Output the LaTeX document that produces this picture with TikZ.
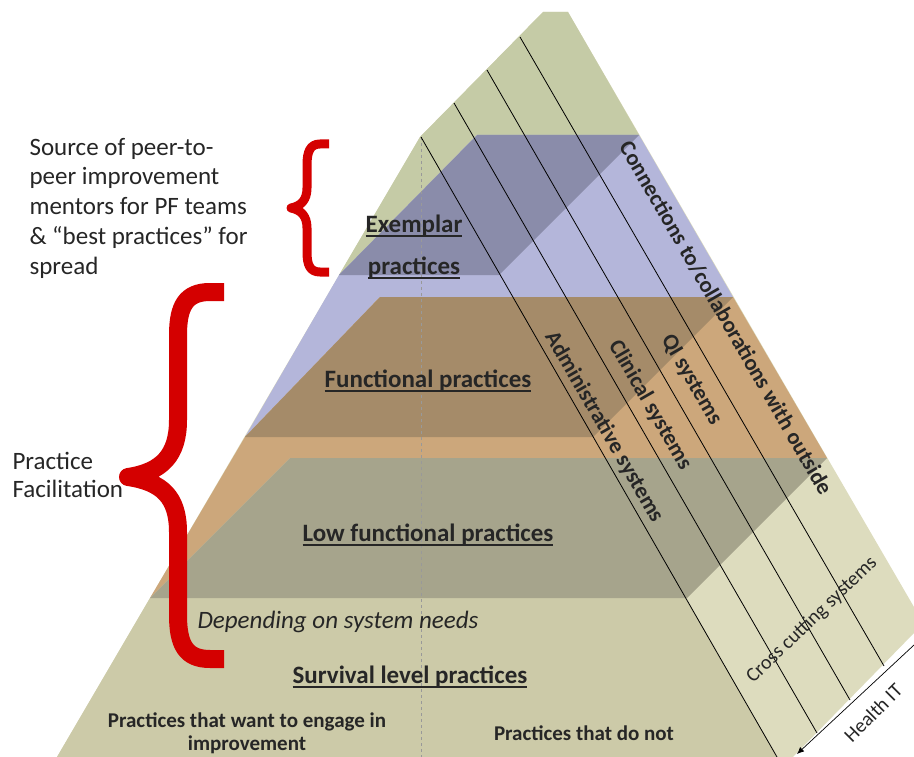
\documentclass[tikz,border=0pt]{standalone}
\usepackage{fontspec}
\setmainfont{Carlito}
\usetikzlibrary{arrows.meta}

\definecolor{topgreen}{HTML}{C5CBA6}
\definecolor{facelight}{HTML}{DDDCBE}
\definecolor{survfront}{HTML}{CCCAA8}
\definecolor{purplelight}{HTML}{B4B6DA}
\definecolor{purpledark}{HTML}{8A8CAA}
\definecolor{orangelight}{HTML}{CCA77B}
\definecolor{browndark}{HTML}{A58B69}
\definecolor{greydark}{HTML}{A6A48C}
\definecolor{bracered}{HTML}{D40000}

% thick underline for the level names
\newcommand{\undl}[1]{\setbox0\hbox{#1}\rlap{\rule[-4pt]{\wd0}{1.5pt}}\box0}

\tikzset{
  lvl/.style={font=\bfseries\fontsize{25}{29}\selectfont, text=black!85},
  sys/.style={font=\bfseries\fontsize{22.5}{26}\selectfont, rotate=-60, text=black!85},
  side/.style={font=\fontsize{25}{29.75}\selectfont, align=left, anchor=west, text=black!85},
  small/.style={font=\bfseries\fontsize{21}{23}\selectfont, text=black!85},
  brace/.style={bracered, line join=round},
}

\begin{document}
\begin{tikzpicture}[x=1pt, y=-1pt]
    \useasboundingbox (0,0) rectangle (914,757);

    % Whole pyramid, light side face
    \fill[facelight] (543,12) -- (568,12) -- (914,607) -- (914,633) -- (793,757) -- (57,757) -- (420,137) -- cycle;
    % Front of the survival level
    \fill[survfront] (150,598) -- (686,598) -- (777,757) -- (57,757) -- cycle;
    % Top of the pyramid
    \fill[topgreen] (543,12) -- (568,12) -- (639,135) -- (477,135) -- (339,275) -- (420,137) -- cycle;

    % Exemplar level
    \fill[purplelight] (477,135) -- (639,135) -- (733,297) -- (380,297) -- (245,437) -- (339,275) -- cycle;
    \fill[purpledark] (477,135) -- (639,135) -- (499,275) -- (339,275) -- cycle;
    % Functional level
    \fill[orangelight] (380,297) -- (733,297) -- (827,458) -- (290,458) -- (150,598) -- (245,437) -- cycle;
    \fill[browndark] (380,297) -- (733,297) -- (593,437) -- (245,437) -- cycle;
    % Low functional level
    \fill[greydark] (290,458) -- (827,458) -- (687,598) -- (150,598) -- cycle;

    % Split want / do not
    \draw[black!40, dashed, line width=0.6pt] (421,137) -- (421,757);

    % Cross cutting system lines
    \draw[black, line width=0.8pt] (421,137) -- (777,757);
    \draw[black, line width=0.8pt] (454,103) -- (817,733);
    \draw[black, line width=0.8pt] (487,70) -- (850,700);
    \draw[black, line width=0.8pt] (520,37) -- (884,666);

    % Health IT arrow
    \coordinate (hitA) at (914,645);
    \coordinate (hitB) at (797,754);
    \draw[black, line width=0.7pt, -{Latex[length=7pt, width=6pt]}] (hitA) -- (hitB);

    % Braces
    \draw[brace, line width=9pt] (329,144) -- (320,144) .. controls (310,144) and (307,152) .. (307,165) -- (307,188)
        .. controls (307,200) and (301,206) .. (291,208) .. controls (301,210) and (307,216) .. (307,228) -- (307,252)
        .. controls (307,265) and (310,272) .. (320,272) -- (329,272);
    \draw[brace, line width=18pt] (224,292) -- (210,292) .. controls (186,292) and (178,306) .. (178,335) -- (178,420)
        .. controls (178,455) and (162,472) .. (128,477) .. controls (162,482) and (178,497) .. (178,532) -- (178,615)
        .. controls (178,645) and (186,659) .. (210,659) -- (224,659);

    % Side texts
    \node[side] (src) at (26,208) {Source of peer-to-\\peer improvement\\mentors for PF teams\\\& “best practices” for\\spread};
    \node[side, font=\fontsize{25}{28}\selectfont] (pf) at (9,475) {Practice\\Facilitation};

    % Level names
    \node[lvl, align=center, font=\bfseries\fontsize{25}{42}\selectfont] (exemplar) at (414,247) {\undl{Exemplar}\\\undl{practices}};
    \node[lvl] (functional) at (428,381) {\undl{Functional practices}};
    \node[lvl] (lowfunc) at (428,535) {\undl{Low functional practices}};
    \node[lvl, font=\itshape\fontsize{25}{29}\selectfont] (depending) at (338,622) {Depending on system needs};
    \node[lvl] (survival) at (410,677) {\undl{Survival level practices}};
    \node[small, align=center] (wantimprove) at (247,733) {Practices that want to engage in\\improvement};
    \node[small] (donot) at (584,733) {Practices that do not};

    % System names
    \node[sys] (admin) at (604,427) {Administrative systems};
    \node[sys] (clinical) at (650,405) {Clinical systems};
    \node[sys] (qisys) at (691,380) {QI systems};
    \node[sys] (connections) at (726,318) {Connections to/collaborations with outside};
    \node[font=\fontsize{20}{24}\selectfont, rotate=44, text=black!85] (crosscut) at (812,620) {Cross cutting systems};
    \node[font=\fontsize{20}{24}\selectfont, rotate=45, text=black!85] (healthit) at (873,713) {Health IT};
\end{tikzpicture}
\end{document}
